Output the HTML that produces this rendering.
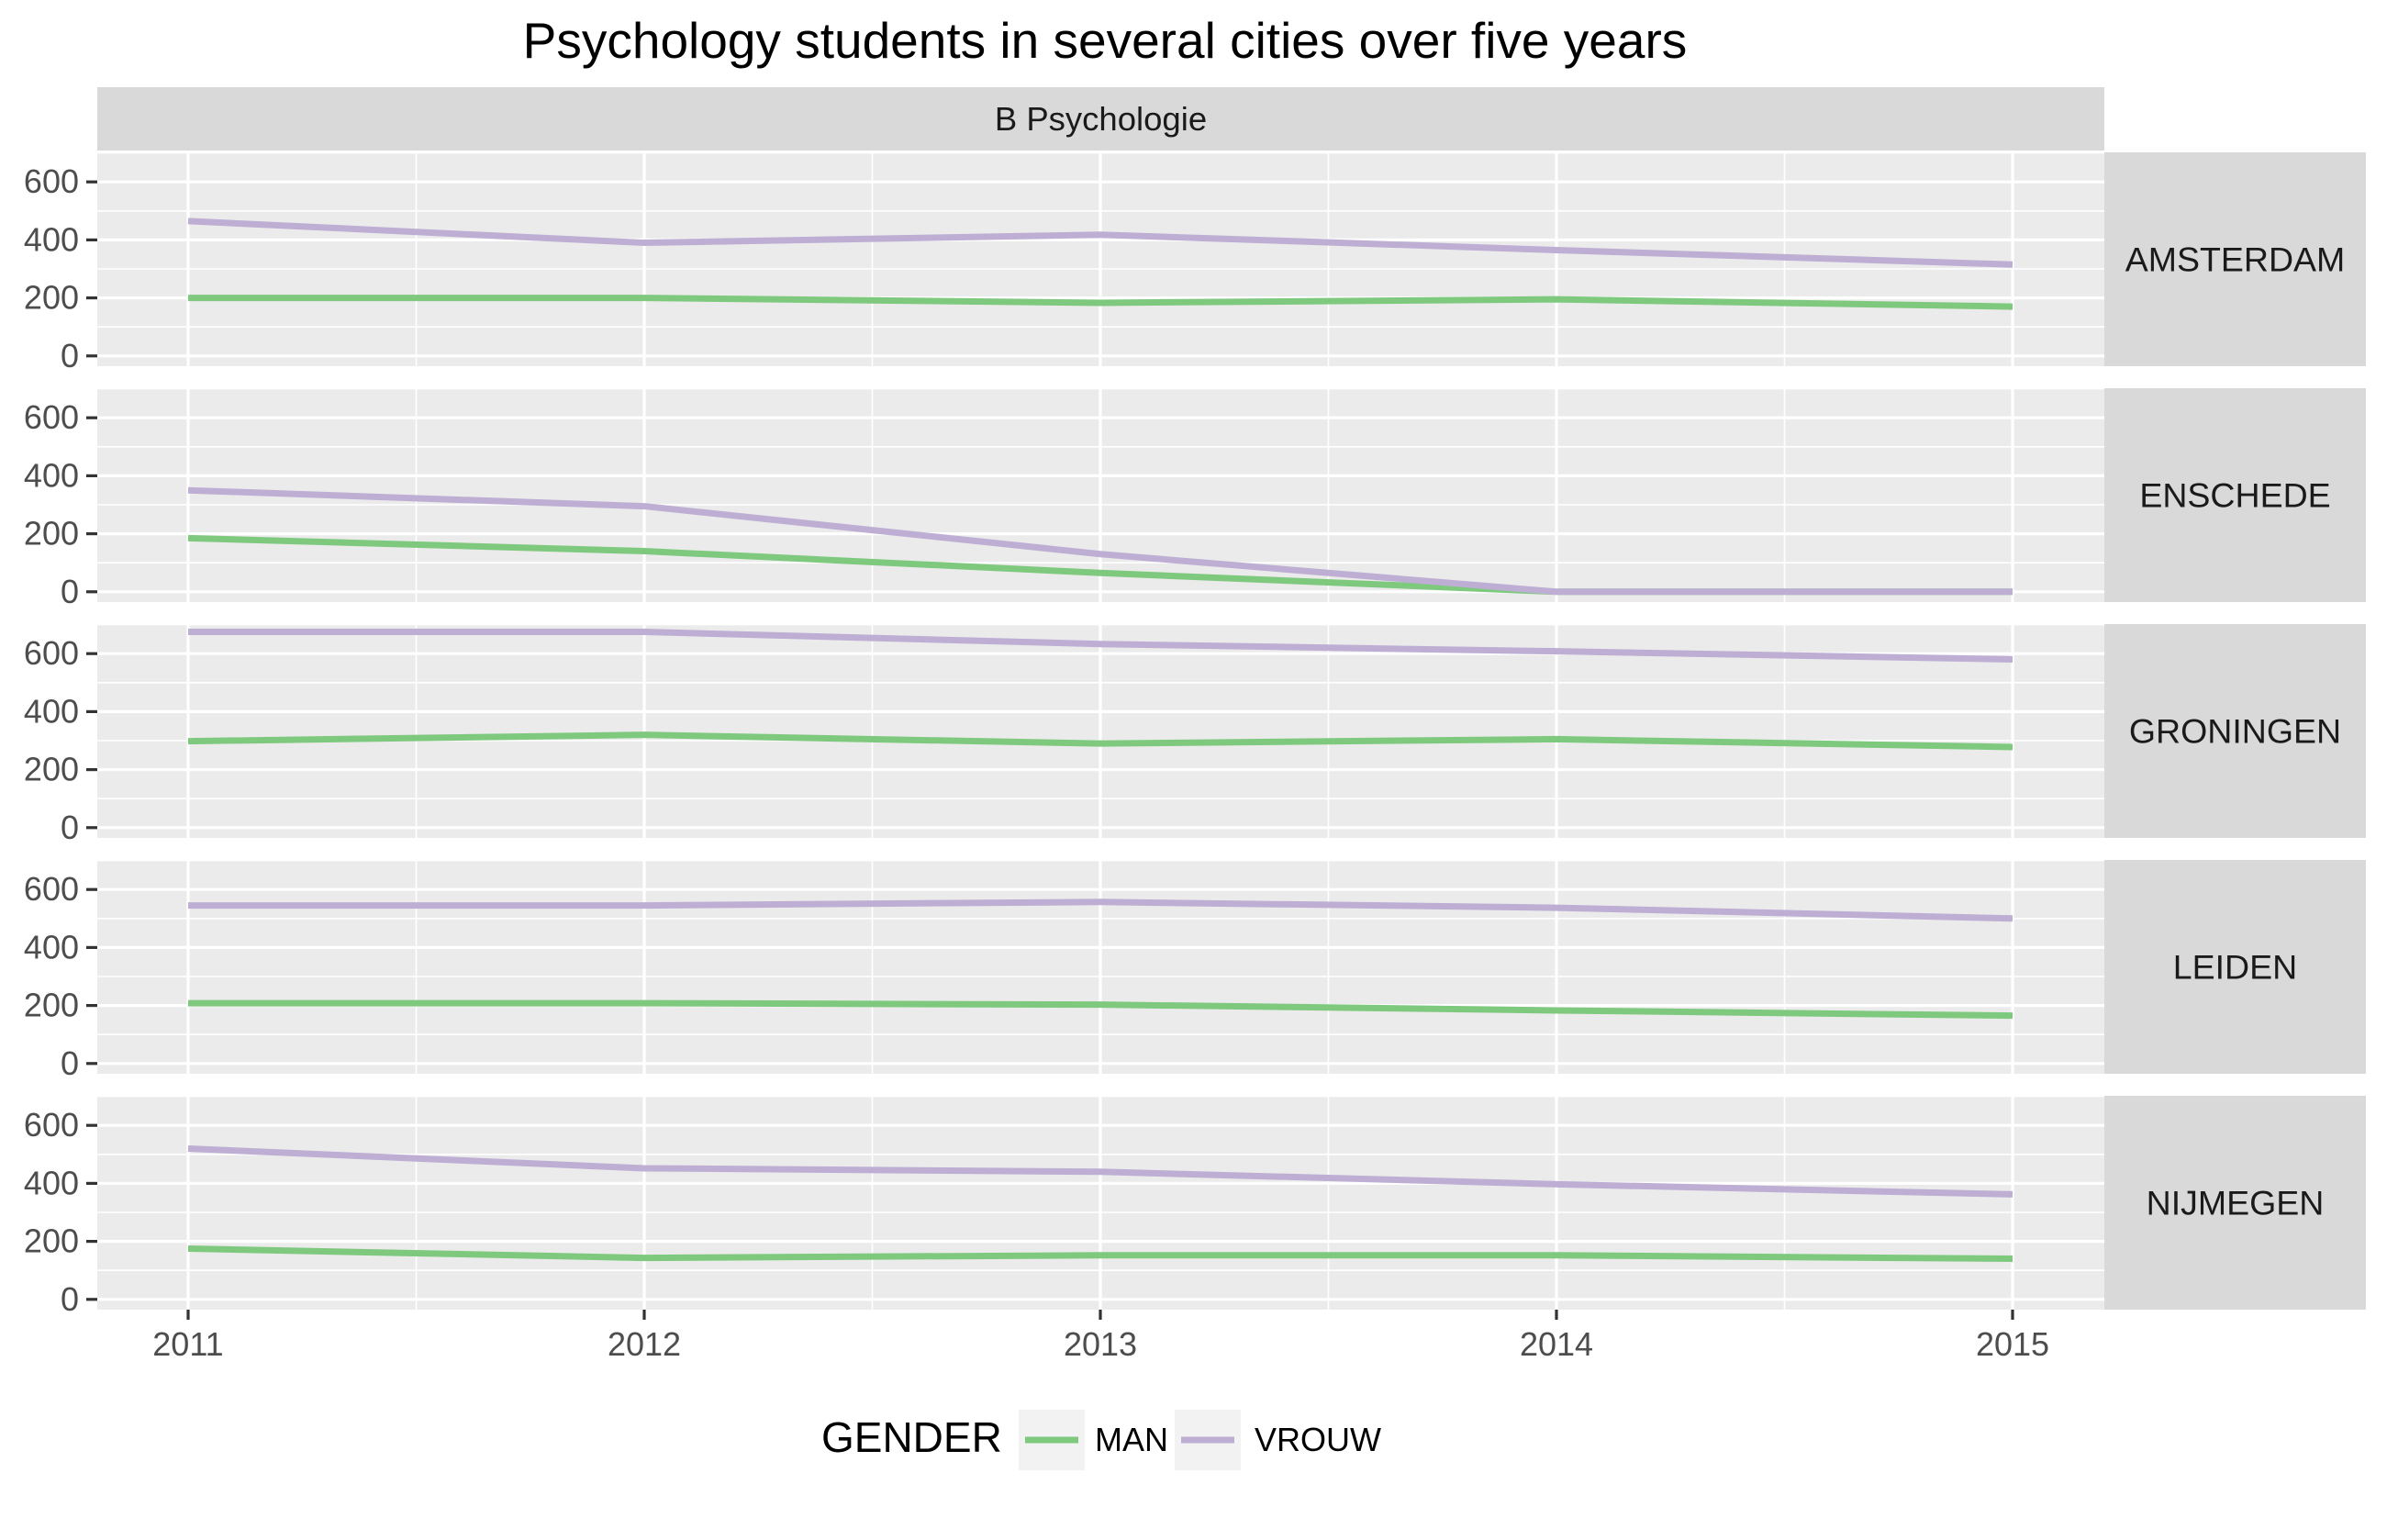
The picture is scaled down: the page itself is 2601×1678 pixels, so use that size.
<!DOCTYPE html>
<html><head><meta charset="utf-8"><style>
html,body{margin:0;padding:0;background:#fff}
svg{display:block}
text{font-family:"Liberation Sans",Arial,sans-serif}
</style></head><body>
<svg id="chart" width="2601" height="1678" viewBox="0 0 2601 1678" xmlns="http://www.w3.org/2000/svg">
<rect width="2601" height="1678" fill="#fff"/>
<text x="1204" y="63" font-size="55" text-anchor="middle" fill="#000">Psychology students in several cities over five years</text>
<g id="plot"></g>
</svg>
<script>
const cities = ["AMSTERDAM","ENSCHEDE","GRONINGEN","LEIDEN","NIJMEGEN"];
const years = [2011,2012,2013,2014,2015];
const yTicks = [0,200,400,600];
const yMinor = [100,300,500,700];
const manValues = [
  [200,200,183,195,170],
  [185,140,65,0,0],
  [298,320,290,305,278],
  [208,208,203,183,165],
  [175,143,152,152,140]
];
const vrouwValues = [
  [465,390,418,365,315],
  [350,295,130,0,0],
  [675,675,633,608,580],
  [545,545,557,537,500],
  [520,452,440,397,362]
];
const seriesNames = ["MAN","VROUW"];
const seriesColors = ["#7fc97f","#beaed4"];

const NS="http://www.w3.org/2000/svg";
const g=document.getElementById('plot');
function mk(tag,attrs,parent){const e=document.createElementNS(NS,tag);for(const k in attrs)e.setAttribute(k,attrs[k]);(parent||g).appendChild(e);return e;}
const PL=106, PR=2293, SR=2578;
const panelTop0=166, panelH=233, pitch=257;
function xs(yr){return 205+(yr-2011)*497;}
function ys(v,top){return top+221.8-v*0.316;}

const strip=mk('rect',{x:PL,y:95,width:PR-PL,height:69,fill:'#d9d9d9'});


const st=mk('text',{x:(PL+PR)/2,y:142,'font-size':36.5,'text-anchor':'middle',fill:'#1a1a1a'});
st.textContent='B Psychologie';



cities.forEach((c,i)=>{
  const top=panelTop0+i*pitch;
  const pg=mk('g',{});
  
  
  mk('rect',{x:PL,y:top,width:PR-PL,height:panelH,fill:'#ebebeb'},pg);
  yMinor.forEach(v=>{const y=ys(v,top);if(y>top)mk('line',{x1:PL,x2:PR,y1:y,y2:y,stroke:'#fff','stroke-width':1.6},pg);});
  for(let k=0;k<4;k++){const x=xs(2011.5+k);mk('line',{x1:x,x2:x,y1:top,y2:top+panelH,stroke:'#fff','stroke-width':1.6},pg);}
  yTicks.forEach(v=>{const y=ys(v,top);mk('line',{x1:PL,x2:PR,y1:y,y2:y,stroke:'#fff','stroke-width':3.2},pg);
    mk('line',{x1:94,x2:PL,y1:y,y2:y,stroke:'#333','stroke-width':3.2},pg);
    const t=mk('text',{x:86,y:y+12,'font-size':36,'text-anchor':'end',fill:'#4d4d4d'},pg);t.textContent=v;
    
    });
  years.forEach(yr=>{const x=xs(yr);mk('line',{x1:x,x2:x,y1:top,y2:top+panelH,stroke:'#fff','stroke-width':3.2},pg);});
  [manValues,vrouwValues].forEach((arr,s)=>{
    const d=arr[i].map((v,j)=>(j?'L':'M')+xs(years[j])+','+ys(v,top)).join(' ');
    const p=mk('path',{d:d,fill:'none',stroke:seriesColors[s],'stroke-width':7,'stroke-linejoin':'round'},pg);
    
    
  });
  const sr=mk('rect',{x:PR,y:top,width:SR-PR,height:panelH,fill:'#d9d9d9'},pg);
  
  
  const tt=mk('text',{x:(PR+SR)/2,y:top+panelH/2+13,'font-size':37.5,'text-anchor':'middle',fill:'#1a1a1a'},pg);
  tt.textContent=c;
  
  
});
const bottom=panelTop0+4*pitch+panelH;
years.forEach(yr=>{const x=xs(yr);
  mk('line',{x1:x,x2:x,y1:bottom,y2:bottom+11,stroke:'#333','stroke-width':3.2});
  const t=mk('text',{x:x,y:1477,'font-size':36,'text-anchor':'middle',fill:'#4d4d4d'});t.textContent=yr;
  
  });

const lg=mk('g',{});


const lt=mk('text',{x:895,y:1582,'font-size':46,fill:'#000'},lg);lt.textContent='GENDER';


const keyX=[1110,1280], labX=[1193,1367];
seriesNames.forEach((n,s)=>{
  const e=mk('g',{},lg);
  
  
  mk('rect',{x:keyX[s],y:1536,width:72,height:66,fill:'#f2f2f2'},e);
  mk('line',{x1:keyX[s]+7,x2:keyX[s]+65,y1:1569,y2:1569,stroke:seriesColors[s],'stroke-width':7},e);
  const t=mk('text',{x:labX[s],y:1581,'font-size':36,fill:'#000'},e);t.textContent=n;
});
</script>
</body></html>
